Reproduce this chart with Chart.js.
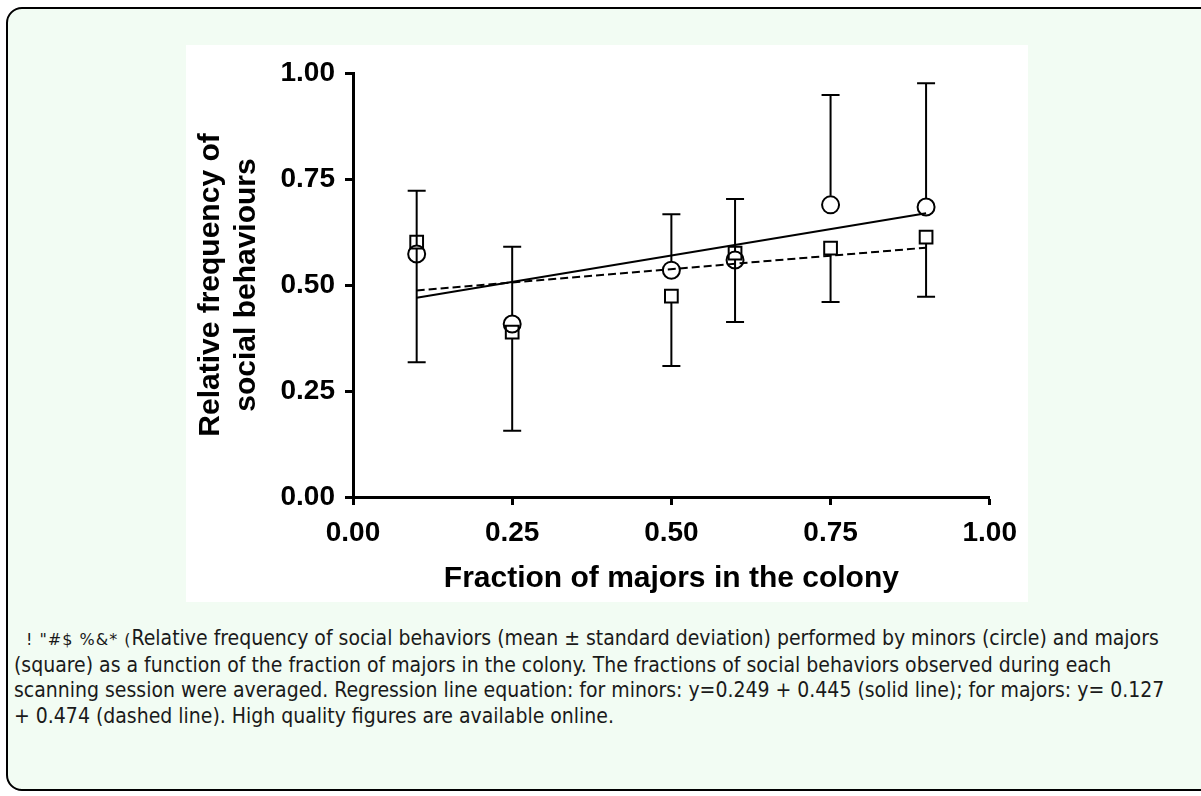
<!DOCTYPE html>
<html>
<head>
<meta charset="utf-8">
<script src="https://cdn.jsdelivr.net/npm/chart.js@4/dist/chart.umd.min.js"></script>
<style>
  html, body { margin: 0; overflow: hidden; }
  body { background: #fff; width: 1201px; height: 796px; position: relative; }
  #box {
    position: absolute; left: 6px; top: 7px; width: 1300px; height: 780px;
    border: 2px solid #000; border-radius: 16px; background: #f2fcf3;
  }
  #panel { position: absolute; left: 186px; top: 45px; width: 842px; height: 557px; background: #fff; }
  #caption {
    position: absolute; left: 14px; top: 626px; font-family: "DejaVu Sans Condensed", sans-serif;
    font-size: 21px; line-height: 25.7px; color: #1a1a1a; white-space: nowrap;
  }
  #caption .lbl { font-family: "DejaVu Sans", sans-serif; font-size: 16px; letter-spacing: 1px; margin-left: 12px; }
</style>
</head>
<body>
<div id="box"></div>
<div id="panel"><canvas id="c" width="842" height="557"></canvas></div>
<div id="caption">
  <span class="lbl">! "#$ %&* (</span>Relative frequency of social behaviors (mean ± standard deviation) performed by minors (circle) and majors<br>
  (square) as a function of the fraction of majors in the colony. The fractions of social behaviors observed during each<br>
  scanning session were averaged. Regression line equation: for minors: y=0.249 + 0.445 (solid line); for majors: y= 0.127<br>
  + 0.474 (dashed line). High quality figures are available online.
</div>
<script>
// fraction of majors in the colony
const fractions = [0.1, 0.25, 0.5, 0.6, 0.75, 0.9];
// minors (circles), mean and SD (bar drawn upward)
const minorsMean = [0.573, 0.408, 0.535, 0.559, 0.689, 0.684];
const minorsSd = [0.149, 0.182, 0.132, 0.144, 0.259, 0.292];
// majors (squares), mean and SD (bar drawn downward)
const majorsMean = [0.601, 0.389, 0.474, 0.575, 0.587, 0.613];
const majorsSd = [0.283, 0.233, 0.165, 0.162, 0.127, 0.141];
// regression line ends (x = 0.1 and 0.9)
const lineX = [0.1, 0.9];
const minorsFit = [0.470, 0.669];
const majorsFit = [0.487, 0.588];
const ticks = [0, 0.25, 0.5, 0.75, 1];

const tickFont = { family: "'Liberation Sans', Arial, sans-serif", size: 28, weight: "bold" };
const titleFont = { family: "'Liberation Sans', Arial, sans-serif", size: 30, weight: "bold" };

const toXY = (xs, ys) => xs.map((x, i) => ({ x, y: ys[i] }));

// error bars, one direction per series
const errorBars = {
  id: "errorBars",
  afterDatasetsDraw(chart) {
    const { ctx, scales: { x, y } } = chart;
    ctx.save();
    ctx.strokeStyle = "#000";
    ctx.lineWidth = 2;
    const cap = 9;
    fractions.forEach((f, i) => {
      const px = x.getPixelForValue(f);
      // minors up
      let y0 = y.getPixelForValue(minorsMean[i]) - 9;
      let y1 = y.getPixelForValue(minorsMean[i] + minorsSd[i]);
      ctx.beginPath();
      ctx.moveTo(px, y0); ctx.lineTo(px, y1);
      ctx.moveTo(px - cap, y1); ctx.lineTo(px + cap, y1);
      ctx.stroke();
      // majors down
      y0 = y.getPixelForValue(majorsMean[i]) + 6.5;
      y1 = y.getPixelForValue(majorsMean[i] - majorsSd[i]);
      ctx.beginPath();
      ctx.moveTo(px, y0); ctx.lineTo(px, y1);
      ctx.moveTo(px - cap, y1); ctx.lineTo(px + cap, y1);
      ctx.stroke();
    });
    ctx.restore();
  }
};

const axisCommon = {
  type: "linear",
  min: 0,
  max: 1,
  border: { display: true, color: "#000", width: 3 },
  grid: { drawOnChartArea: false, drawTicks: true, tickLength: 8, tickWidth: 3, color: "#000" },
};

new Chart(document.getElementById("c"), {
  type: "scatter",
  data: {
    datasets: [
      {
        label: "minors fit",
        type: "line",
        data: toXY(lineX, minorsFit),
        borderColor: "#000",
        borderWidth: 2,
        pointRadius: 0,
      },
      {
        label: "majors fit",
        type: "line",
        data: toXY(lineX, majorsFit),
        borderColor: "#000",
        borderWidth: 2,
        borderDash: [8, 4],
        pointRadius: 0,
      },
      {
        label: "minors",
        data: toXY(fractions, minorsMean),
        pointStyle: "circle",
        pointRadius: 8.5,
        borderColor: "#000",
        borderWidth: 2,
        backgroundColor: "rgba(0,0,0,0)",
      },
      {
        label: "majors",
        data: toXY(fractions, majorsMean),
        pointStyle: "rect",
        pointRadius: 9,
        borderColor: "#000",
        borderWidth: 2,
        backgroundColor: "rgba(0,0,0,0)",
      },
    ],
  },
  options: {
    responsive: false,
    animation: false,
    layout: { padding: { top: 28, right: 35, left: 0, bottom: 0 } },
    plugins: { legend: { display: false }, tooltip: { enabled: false } },
    scales: {
      x: {
        ...axisCommon,
        afterBuildTicks: (s) => { s.ticks = ticks.map((v) => ({ value: v })); },
        afterFit: (s) => { s.height = 105; },
        ticks: { color: "#000", font: tickFont, padding: 11, callback: (v) => v.toFixed(2) },
        title: { display: true, text: "Fraction of majors in the colony", color: "#000", font: titleFont, padding: { top: 0, bottom: 5 } },
      },
      y: {
        ...axisCommon,
        afterBuildTicks: (s) => { s.ticks = ticks.map((v) => ({ value: v })); },
        afterFit: (s) => { s.width = 167; },
        ticks: { color: "#000", font: tickFont, padding: 10, callback: (v) => v.toFixed(2) },
        title: {
          display: true,
          text: ["Relative frequency of", "social behaviours"],
          color: "#000",
          font: { ...titleFont, lineHeight: 1.2 },
          padding: { top: 7, bottom: 0 },
        },
      },
    },
  },
  plugins: [errorBars],
});
</script>
</body>
</html>
